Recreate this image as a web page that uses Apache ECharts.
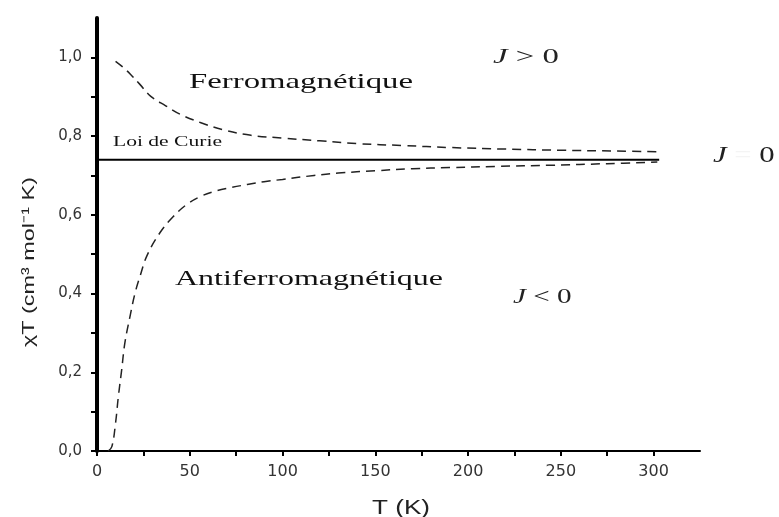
<!DOCTYPE html>
<html>
<head>
<meta charset="utf-8">
<script src="https://cdn.jsdelivr.net/npm/echarts@6/dist/echarts.min.js"></script>
<style>
  html, body { margin: 0; padding: 0; background: #fff; }
  #chart { width: 779px; height: 517px; }
</style>
</head>
<body>
<div id="chart"></div>
<script>
// Temperature (K) and χT values for the three magnetic regimes
const ferroT   = [10, 14, 18, 23, 29, 37, 45, 56, 68, 83, 100, 120, 140, 165, 190, 220, 250, 280, 303];
const ferroChi = [0.99, 0.975, 0.957, 0.932, 0.901, 0.877, 0.855, 0.834, 0.816, 0.802, 0.795, 0.788, 0.781, 0.776, 0.771, 0.767, 0.764, 0.762, 0.760];

const antiT   = [6, 8, 10, 11.5, 13.3, 15, 17.8, 20.5, 23.2, 27, 34, 41, 48, 55, 63, 72, 81, 90, 100, 117, 130, 150, 170, 190, 215, 245, 275, 302];
const antiChi = [0, 0.011, 0.071, 0.138, 0.206, 0.274, 0.342, 0.401, 0.444, 0.497, 0.555, 0.595, 0.625, 0.645, 0.659, 0.669, 0.677, 0.684, 0.690, 0.700, 0.706, 0.712, 0.717, 0.720, 0.723, 0.726, 0.730, 0.734];

const curieT   = [0, 303];
const curieChi = [0.74, 0.74];

const xTicks = [0, 50, 100, 150, 200, 250, 300];
const yTicks = [0.0, 0.2, 0.4, 0.6, 0.8, 1.0];

const pairs = (xs, ys) => xs.map((x, i) => [x, ys[i]]);

// horizontal stretch so a label spans a given width
const measureCtx = document.createElement('canvas').getContext('2d');
function stretch(text, font, width) {
  measureCtx.font = font;
  return width / measureCtx.measureText(text).width;
}

const serif = '"Liberation Serif", "Times New Roman", serif';
const sans = '"Liberation Sans", Arial, sans-serif';

function label(text, x, y, size, width, italic) {
  const font = (italic ? 'italic ' : '') + size + 'px ' + serif;
  return {
    type: 'text',
    x: x, y: y,
    scaleX: stretch(text, font, width),
    style: {
      text: text, font: font, fill: '#111',
      align: 'left', verticalAlign: 'middle'
    },
    z: 10
  };
}

function jLabel(rest, x, y, size, width, restColor) {
  const plain = 'J' + rest;
  const font = size + 'px ' + serif;
  return {
    type: 'text',
    x: x, y: y,
    scaleX: stretch(plain, font, width),
    style: {
      text: '{j|J}{r|' + rest + '}',
      align: 'left', verticalAlign: 'middle',
      rich: {
        j: { fontFamily: serif, fontStyle: 'italic', fontSize: size, fill: '#222' },
        r: { fontFamily: serif, fontSize: size, fill: '#222' }
      }
    },
    z: 10
  };
}

const yName = 'χT (cm³ mol⁻¹ K)';
const yNameFont = '17px ' + sans;
const xName = 'T (K)';
const xNameFont = '20px ' + sans;

const chart = echarts.init(document.getElementById('chart'), null, { renderer: 'canvas' });

chart.setOption({
  backgroundColor: '#fff',
  animation: false,
  grid: { left: 97, right: 79, top: 18, bottom: 66, containLabel: false },
  xAxis: {
    type: 'value',
    min: 0, max: 325, interval: 25,
    axisLine: { onZero: false, lineStyle: { color: '#000', width: 2 } },
    axisTick: { show: true, inside: false, length: 5, lineStyle: { color: '#000', width: 2 } },
    axisLabel: {
      margin: 13,
      fontFamily: 'DejaVu Sans, sans-serif', fontSize: 16, color: '#333',
      showMaxLabel: false,
      formatter: v => xTicks.includes(v) ? String(v) : ''
    },
    splitLine: { show: false }
  },
  yAxis: {
    type: 'value',
    min: 0, max: 1.1, interval: 0.1,
    axisLine: { onZero: false, lineStyle: { color: '#000', width: 4 } },
    axisTick: { show: true, inside: false, length: 6, lineStyle: { color: '#000', width: 2 } },
    axisLabel: {
      margin: 15,
      fontFamily: 'DejaVu Sans, sans-serif', fontSize: 15, color: '#333',
      showMaxLabel: false,
      formatter: v => {
        const r = Math.round(v * 10) / 10;
        return yTicks.some(t => Math.abs(t - r) < 1e-6) ? r.toFixed(1).replace('.', ',') : '';
      }
    },
    splitLine: { show: false }
  },
  graphic: [
    {
      type: 'text',
      x: 29, y: 262,
      rotation: Math.PI / 2,
      scaleX: stretch(yName, yNameFont, 170),
      style: {
        text: yName, font: yNameFont,
        fill: '#222', align: 'center', verticalAlign: 'middle'
      }
    },
    {
      type: 'text',
      x: 401, y: 508,
      scaleX: stretch(xName, xNameFont, 58),
      style: {
        text: xName, font: xNameFont,
        fill: '#222', align: 'center', verticalAlign: 'middle'
      }
    },
    label('Ferromagnétique', 189, 82, 22, 224, false),
    label('Antiferromagnétique', 175, 279, 22, 268, false),
    label('Loi de Curie', 113, 142, 14, 109, false),
    jLabel(' > 0', 493, 57, 22, 64),
    jLabel(' < 0', 513, 297, 22, 57),
    {
      type: 'text',
      x: 713, y: 156,
      scaleX: stretch('J = 0', '24px ' + serif, 60),
      style: {
        text: '{j|J}{r| }{e|=}{r| }{z|0}',
        align: 'left', verticalAlign: 'middle',
        rich: {
          j: { fontFamily: serif, fontStyle: 'italic', fontSize: 24, fill: '#222' },
          r: { fontFamily: serif, fontSize: 24, fill: '#222' },
          e: { fontFamily: serif, fontSize: 24, fill: '#f4f4f4' },
          z: { fontFamily: serif, fontSize: 24, fill: '#222' }
        }
      },
      z: 10
    }
  ],
  series: [
    {
      name: 'Ferromagnétique',
      type: 'line',
      data: pairs(ferroT, ferroChi),
      smooth: 0.4,
      showSymbol: false,
      lineStyle: { color: '#222', width: 1.5, type: [9, 6] },
      z: 3
    },
    {
      name: 'Antiferromagnétique',
      type: 'line',
      data: pairs(antiT, antiChi),
      smooth: 0.4,
      showSymbol: false,
      lineStyle: { color: '#222', width: 1.5, type: [9, 6] },
      z: 3
    },
    {
      name: 'Loi de Curie',
      type: 'line',
      data: pairs(curieT, curieChi),
      showSymbol: false,
      lineStyle: { color: '#000', width: 2, type: 'solid' },
      z: 4
    }
  ]
});
</script>
</body>
</html>
